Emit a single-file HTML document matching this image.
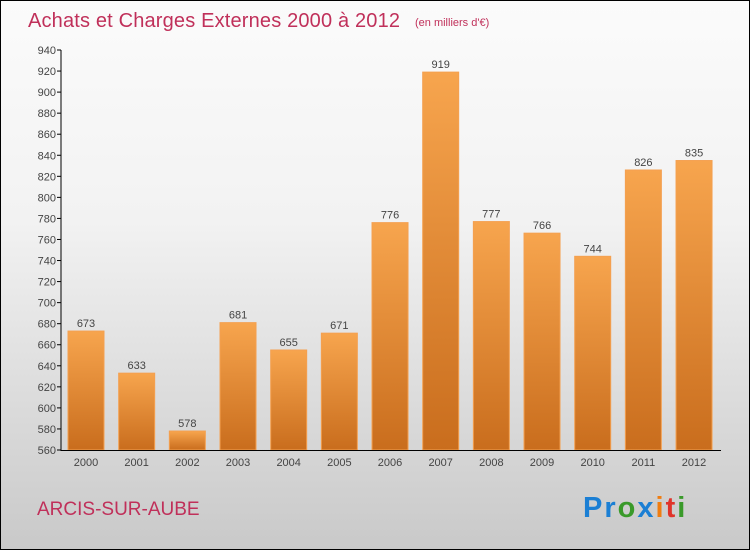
<!DOCTYPE html>
<html><head><meta charset="utf-8"><style>
body{margin:0;}
#c{width:748px;height:548px;border:1px solid #000;background:linear-gradient(#fbfbfb,#f2f2f2 40%,#c9c9c9);position:relative;overflow:hidden;font-family:"Liberation Sans",sans-serif;}
</style></head><body>
<div id="c">
<svg id="s" width="748" height="548">
<defs><linearGradient id="g" x1="0" y1="0" x2="0" y2="1"><stop offset="0" stop-color="#f7a54e"/><stop offset="1" stop-color="#c96d1d"/></linearGradient></defs>
<text x="27" y="26" font-size="20" fill="#c0305a" textLength="372">Achats et Charges Externes 2000 à 2012</text>
<text x="414" y="25" font-size="11" fill="#c0305a">(en milliers d'€)</text>
<text x="36" y="514" font-size="19" fill="#c0305a">ARCIS-SUR-AUBE</text>
<text x="582" y="516" font-size="29" font-weight="bold" letter-spacing="2"><tspan fill="#1b7fd4">Pr</tspan><tspan fill="#3a9a2a">o</tspan><tspan fill="#1b7fd4">x</tspan><tspan fill="#f07d10">i</tspan><tspan fill="#e0342a">t</tspan><tspan fill="#3a9a2a">i</tspan></text>
</svg>
</div>
<script>
const years=["2000","2001","2002","2003","2004","2005","2006","2007","2008","2009","2010","2011","2012"];
const values=[673,633,578,681,655,671,776,919,777,766,744,826,835];
const ticks=[560,580,600,620,640,660,680,700,720,740,760,780,800,820,840,860,880,900,920,940];
const s=document.getElementById('s');const NS='http://www.w3.org/2000/svg';
const y0=449,y1=49,vmin=560,vmax=940;
const Y=v=>y0-(v-vmin)/(vmax-vmin)*(y0-y1);
const X=i=>85+i*50.67;
function mk(t,a){const e=document.createElementNS(NS,t);for(const k in a)e.setAttribute(k,a[k]);s.appendChild(e);return e;}
ticks.forEach(t=>{
const l=mk('line',{x1:56,x2:60,y1:Y(t),y2:Y(t),stroke:'#000'});


const tx=mk('text',{x:55,y:Y(t)+4,'font-size':11,'text-anchor':'end',fill:'#444'});tx.textContent=t;


});
values.forEach((v,i)=>{
const r=mk('rect',{x:X(i)-18,y:Y(v),width:36,height:y0-Y(v),fill:'url(#g)',stroke:'#f4a050','stroke-width':1});


const t=mk('text',{x:X(i),y:Y(v)-4,'font-size':11,'text-anchor':'middle',fill:'#444'});t.textContent=v;


const yl=mk('text',{x:X(i),y:465,'font-size':11,'text-anchor':'middle',fill:'#444'});yl.textContent=years[i];


});
const ya=mk('line',{x1:60,x2:60,y1:y1,y2:y0+1,stroke:'#000'});


const xa=mk('line',{x1:60,x2:720,y1:y0+0.5,y2:y0+0.5,stroke:'#000'});


</script>
</body></html>
